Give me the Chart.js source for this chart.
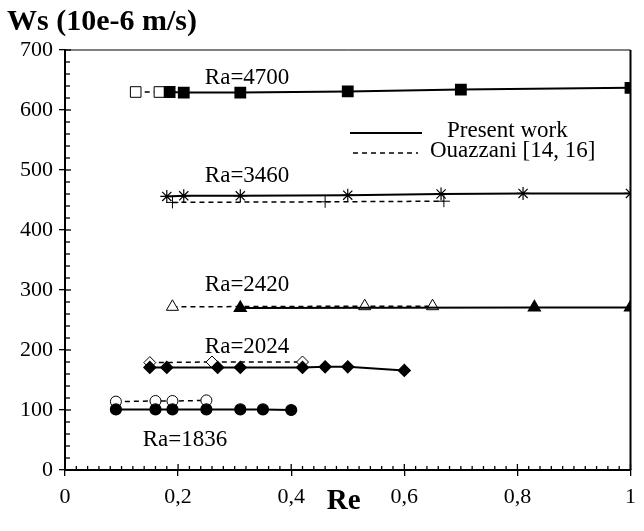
<!DOCTYPE html>
<html>
<head>
<meta charset="utf-8">
<script src="https://cdn.jsdelivr.net/npm/chart.js@4"></script>
<style>
  html, body { margin: 0; padding: 0; background: #fff; }
</style>
</head>
<body>
<canvas id="myChart" width="644" height="531"></canvas>
<script>
const ctx = document.getElementById('myChart').getContext('2d');

// Re (x) and Ws (y, 10e-6 m/s)
// present work = filled markers, Ouazzani = open markers
const re4700 = [0.185, 0.21, 0.31, 0.50, 0.70, 1.0];
const ws4700 = [630, 629, 629, 631, 634, 637];
const re4700Ouaz = [0.125, 0.167];
const ws4700Ouaz = [630, 630];

const re3460 = [0.18, 0.21, 0.31, 0.50, 0.665, 0.81, 1.0];
const ws3460 = [456, 457, 457, 458, 460, 461, 461];
const re3460Ouaz = [0.19, 0.46, 0.67];
const ws3460Ouaz = [446, 447, 448];

const re2420 = [0.31, 0.83, 1.0];
const ws2420 = [270, 271, 271];
const re2420Ouaz = [0.19, 0.53, 0.65];
const ws2420Ouaz = [272, 273, 273];

const re2024 = [0.15, 0.18, 0.27, 0.31, 0.42, 0.46, 0.50, 0.60];
const ws2024 = [171, 171, 171, 171, 171, 172, 172, 166];
const re2024Ouaz = [0.15, 0.26, 0.42];
const ws2024Ouaz = [179, 180, 180];

const re1836 = [0.09, 0.16, 0.19, 0.25, 0.31, 0.35, 0.40];
const ws1836 = [101, 101, 101, 101, 101, 101, 100];
const re1836Ouaz = [0.09, 0.16, 0.19, 0.25];
const ws1836Ouaz = [114, 115, 115, 116];

// curve labels, anchored in data units
const raLabels = ['Ra=4700', 'Ra=3460', 'Ra=2420', 'Ra=2024', 'Ra=1836'];
const raLabelRe = [0.322, 0.322, 0.322, 0.322, 0.212];
const raLabelWs = [654, 490, 309, 205, 50];

const xTicks = [0, 0.2, 0.4, 0.6, 0.8, 1];
const xTickLabels = ['0', '0,2', '0,4', '0,6', '0,8', '1'];
const yTicks = [0, 100, 200, 300, 400, 500, 600, 700];

const serif = "'Liberation Serif', 'Times New Roman', serif";

function toPoints(xs, ys) {
    let pts = [];
    for (let i = 0; i < xs.length; i++) {
        pts.push({ x: xs[i], y: ys[i] });
    }
    return pts;
}

function presentSet(xs, ys, style, radius) {
    return {
        data: toPoints(xs, ys),
        showLine: true,
        borderColor: '#000',
        borderWidth: 2,
        pointStyle: style,
        pointRadius: radius,
        pointBackgroundColor: '#000',
        pointBorderColor: '#000',
        pointBorderWidth: 1.2
    };
}

function ouazSet(xs, ys, style, radius) {
    return {
        data: toPoints(xs, ys),
        showLine: true,
        borderColor: '#000',
        borderWidth: 1.5,
        borderDash: [5, 4],
        pointStyle: style,
        pointRadius: radius,
        pointBackgroundColor: '#fff',
        pointBorderColor: '#000',
        pointBorderWidth: 1
    };
}

// frame, inward ticks, curve labels and legend
const decorations = {
    id: 'decorations',
    beforeDatasetsDraw(chart) {
        const c = chart.ctx;
        const a = chart.chartArea;
        const xs = chart.scales.x;
        const ys = chart.scales.y;
        c.save();
        c.strokeStyle = '#000';
        c.lineWidth = 1;
        c.beginPath();
        c.moveTo(a.left, a.top);
        c.lineTo(a.right, a.top);
        c.stroke();
        c.lineWidth = 2;
        c.beginPath();
        c.moveTo(a.right, a.top);
        c.lineTo(a.right, a.bottom);
        c.stroke();
        c.lineWidth = 1.3;
        for (let v = 0; v <= 700; v += 20) {
            const py = ys.getPixelForValue(v);
            const len = v % 100 === 0 ? 6 : 5;
            c.beginPath();
            c.moveTo(a.left, py);
            c.lineTo(a.left + len, py);
            c.stroke();
        }
        for (let i = 0; i <= 50; i++) {
            const px = xs.getPixelForValue(i / 50);
            const len = i % 10 === 0 ? 6 : 4;
            c.beginPath();
            c.moveTo(px, a.bottom);
            c.lineTo(px, a.bottom - len);
            c.stroke();
        }
        c.restore();
    },
    afterDraw(chart) {
        const c = chart.ctx;
        const a = chart.chartArea;
        const xs = chart.scales.x;
        const ys = chart.scales.y;
        c.save();
        c.fillStyle = '#000';
        c.textBaseline = 'middle';
        c.textAlign = 'center';
        c.font = '23px ' + serif;
        for (let i = 0; i < raLabels.length; i++) {
            c.fillText(raLabels[i], xs.getPixelForValue(raLabelRe[i]), ys.getPixelForValue(raLabelWs[i]));
        }

        // legend
        const lx = a.left + 285;
        c.strokeStyle = '#000';
        c.lineWidth = 2;
        c.beginPath();
        c.moveTo(lx, 133);
        c.lineTo(lx + 72, 133);
        c.stroke();
        c.lineWidth = 1.5;
        c.setLineDash([5, 4]);
        c.beginPath();
        c.moveTo(lx + 3, 153);
        c.lineTo(lx + 68, 153);
        c.stroke();
        c.setLineDash([]);
        c.textAlign = 'left';
        c.font = '23px ' + serif;
        c.fillText('Present work', lx + 97, 131);
        c.fillText('Ouazzani [14, 16]', lx + 80, 151);

        // x axis name sits on the tick label row
        c.textAlign = 'center';
        c.font = 'bold 29px ' + serif;
        c.fillText('Re', (a.left + a.right) / 2 - 4, 502);
        c.restore();
    }
};

const myChart = new Chart(ctx, {
    type: 'scatter',
    data: {
        datasets: [
            presentSet(re4700, ws4700, 'rect', 7.5),
            ouazSet(re4700Ouaz, ws4700Ouaz, 'rect', 7.5),
            presentSet(re3460, ws3460, 'star', 6.5),
            ouazSet(re3460Ouaz, ws3460Ouaz, 'cross', 6),
            presentSet(re2420, ws2420, 'triangle', 7),
            ouazSet(re2420Ouaz, ws2420Ouaz, 'triangle', 7),
            presentSet(re2024, ws2024, 'rectRot', 6),
            ouazSet(re2024Ouaz, ws2024Ouaz, 'rectRot', 6),
            presentSet(re1836, ws1836, 'circle', 5.5),
            ouazSet(re1836Ouaz, ws1836Ouaz, 'circle', 5.5)
        ]
    },
    options: {
        responsive: false,
        animation: { duration: 0 },
        layout: { padding: { left: 7, right: 7, top: 0, bottom: 0 } },
        plugins: {
            legend: { display: false },
            tooltip: { enabled: false },
            title: {
                display: true,
                text: 'Ws (10e-6 m/s)',
                align: 'start',
                color: '#000',
                font: { family: serif, size: 30, weight: 'bold' },
                padding: { top: 4, bottom: 10 }
            }
        },
        scales: {
            x: {
                type: 'linear',
                min: 0,
                max: 1,
                afterBuildTicks: (scale) => { scale.ticks = xTicks.map(v => ({ value: v })); },
                afterFit: (scale) => { scale.height = 61; },
                ticks: {
                    color: '#000',
                    font: { family: serif, size: 22 },
                    padding: 8,
                    maxRotation: 0,
                    callback: (v) => xTickLabels[xTicks.indexOf(v)]
                },
                grid: { drawOnChartArea: false, color: '#000', lineWidth: 1.3, tickLength: 6 },
                border: { color: '#000', width: 2 }
            },
            y: {
                type: 'linear',
                min: 0,
                max: 700,
                afterBuildTicks: (scale) => { scale.ticks = yTicks.map(v => ({ value: v })); },
                afterFit: (scale) => { scale.width = 58; },
                ticks: {
                    color: '#000',
                    font: { family: serif, size: 22 },
                    padding: 6
                },
                grid: { drawOnChartArea: false, color: '#000', lineWidth: 1.3, tickLength: 6 },
                border: { color: '#000', width: 2 }
            }
        }
    },
    plugins: [decorations]
});
</script>
</body>
</html>
